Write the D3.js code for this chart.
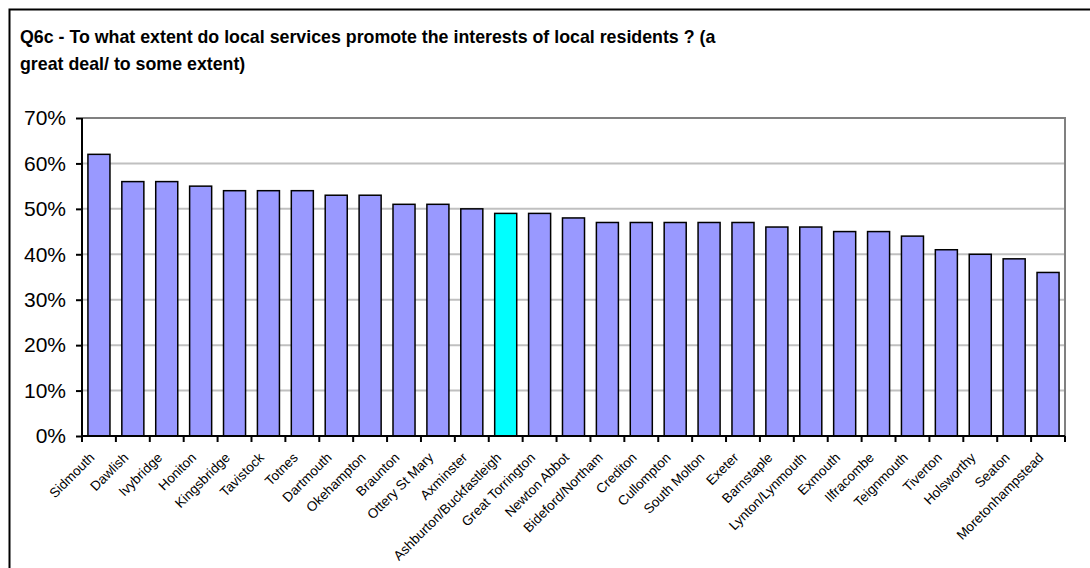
<!DOCTYPE html>
<html lang="en">
<head>
    <meta charset="UTF-8">
    <title>Q6c - local services</title>
    <script src="https://cdn.jsdelivr.net/npm/d3@7/dist/d3.min.js"></script>
    <style>
        body{ margin:0; background:#fff; }
        text{ font-family: Arial, "Liberation Sans", sans-serif; fill:#000; }
        .title{ font-size:17.8px; font-weight:bold; }
        .yaxis text{ font-size:21px; }
        .xaxis text{ font-size:13.5px; }
        .grid line{ stroke:#c0c0c0; stroke-width:2px; }
    </style>
</head>
<body>
<svg id="main" width="1090" height="568"></svg>
<script>
    // data
    let towns = ['Sidmouth','Dawlish','Ivybridge','Honiton','Kingsbridge','Tavistock','Totnes',
        'Dartmouth','Okehampton','Braunton','Ottery St Mary','Axminster','Ashburton/Buckfastleigh',
        'Great Torrington','Newton Abbot','Bideford/Northam','Crediton','Cullompton','South Molton',
        'Exeter','Barnstaple','Lynton/Lynmouth','Exmouth','Ilfracombe','Teignmouth','Tiverton',
        'Holsworthy','Seaton','Moretonhampstead'];
    let values = [62,56,56,55,54,54,54,53,53,51,51,50,49,49,48,47,47,47,47,47,46,46,45,45,44,41,40,39,36];
    let highlight = ['Ashburton/Buckfastleigh'];
    let yTicks = [0,10,20,30,40,50,60,70];
    let titleLines = ['Q6c - To what extent do local services promote the interests of local residents ? (a',
        'great deal/ to some extent)'];

    let svg = d3.select('svg#main');
    let plot = {left:82, right:1065, top:118, bottom:436};

    // outer frame
    svg.append('rect')
        .attr('x', 9.5).attr('y', 9.5)
        .attr('width', 1100).attr('height', 580)
        .attr('fill', 'none').attr('stroke', '#000').attr('stroke-width', 2);

    // title
    svg.append('g').selectAll('text')
        .data(titleLines).enter().append('text')
        .attr('class', 'title')
        .attr('x', 20)
        .attr('y', function(d, i){ return 43 + i*27; })
        .text(function(d){ return d; });

    let xScale = d3.scaleBand().domain(towns).range([plot.left, plot.right])
        .paddingInner(0.35).paddingOuter(0.175);
    let yScale = d3.scaleLinear().domain([0, 70]).range([plot.bottom, plot.top]);

    // gridlines
    svg.append('g').attr('class', 'grid')
        .selectAll('line').data(yTicks.filter(function(d){ return d > 0 && d < 70; }))
        .enter().append('line')
        .attr('x1', plot.left).attr('x2', plot.right)
        .attr('y1', function(d){ return yScale(d); })
        .attr('y2', function(d){ return yScale(d); });

    // plot area border (top, right)
    svg.append('path')
        .attr('d', 'M' + plot.left + ',' + yScale(70) + 'H' + plot.right + 'V' + plot.bottom)
        .attr('fill', 'none').attr('stroke', '#808080').attr('stroke-width', 2);

    // bars
    svg.append('g').selectAll('rect')
        .data(towns).enter().append('rect')
        .attr('x', function(d){ return xScale(d); })
        .attr('width', xScale.bandwidth())
        .attr('y', function(d, i){ return yScale(values[i]); })
        .attr('height', function(d, i){ return yScale(0) - yScale(values[i]); })
        .attr('fill', function(d){ return highlight.indexOf(d) >= 0 ? '#00ffff' : '#9999ff'; })
        .attr('stroke', '#000').attr('stroke-width', 1.5);

    // y axis
    let yAxis = svg.append('g')
        .attr('class', 'yaxis')
        .attr('transform', 'translate(' + plot.left + ',0)')
        .call(d3.axisLeft(yScale).tickValues(yTicks).tickSize(6).tickPadding(10)
            .tickFormat(function(d){ return d + '%'; }));
    yAxis.select('.domain').attr('stroke', '#000').attr('stroke-width', 2)
        .attr('d', 'M0,' + plot.top + 'V' + plot.bottom);
    yAxis.selectAll('.tick line').attr('stroke-width', 2);

    // x axis, ticks at category boundaries
    let step = xScale.step();
    let bounds = d3.range(towns.length + 1).map(function(i){ return plot.left + i*step; });
    let xAxis = svg.append('g')
        .attr('class', 'xaxis')
        .attr('transform', 'translate(0,' + plot.bottom + ')');
    xAxis.append('line')
        .attr('x1', plot.left).attr('x2', plot.right)
        .attr('stroke', '#000').attr('stroke-width', 2);
    xAxis.selectAll('line.tk').data(bounds).enter().append('line')
        .attr('class', 'tk')
        .attr('x1', function(d){ return d; }).attr('x2', function(d){ return d; })
        .attr('y1', 0).attr('y2', 6)
        .attr('stroke', '#000').attr('stroke-width', 2);
    xAxis.selectAll('text').data(towns).enter().append('text')
        .attr('text-anchor', 'end')
        .attr('transform', function(d){
            return 'translate(' + (xScale(d) + xScale.bandwidth()/2 - 7) + ',19) rotate(-45)';
        })
        .attr('dy', '0.35em')
        .text(function(d){ return d; });
</script>
</body>
</html>
